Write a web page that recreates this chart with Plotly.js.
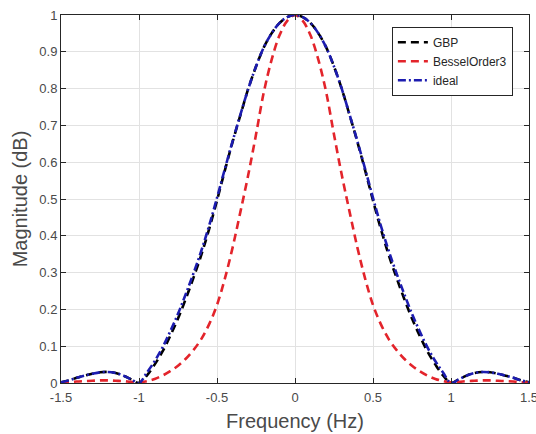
<!DOCTYPE html>
<html>
<head>
<meta charset="utf-8">
<script src="https://cdn.plot.ly/plotly-3.0.1.min.js"></script>
<style>html,body{margin:0;padding:0;background:#fff;}#chart{width:536px;height:434px;}</style>
</head>
<body>
<div id="chart"></div>
<script>
// Frequency grid (Hz)
const freq = [-1.5,-1.45,-1.4,-1.35,-1.3,-1.25,-1.2,-1.15,-1.1,-1.05,-1.0,-0.95,-0.9,-0.85,-0.8,-0.75,-0.7,-0.65,-0.6,-0.55,-0.5,-0.45,-0.4,-0.35,-0.3,-0.25,-0.2,-0.15,-0.1,-0.05,0,0.05,0.1,0.15,0.2,0.25,0.3,0.35,0.4,0.45,0.5,0.55,0.6,0.65,0.7,0.75,0.8,0.85,0.9,0.95,1.0,1.05,1.1,1.15,1.2,1.25,1.3,1.35,1.4,1.45,1.5];

const ideal = [0.002,0.007,0.014,0.020,0.025,0.029,0.030,0.027,0.020,0.010,0.000,0.028,0.059,0.096,0.140,0.188,0.242,0.299,0.360,0.428,0.503,0.581,0.657,0.729,0.799,0.860,0.912,0.950,0.978,0.994,1.000,0.994,0.978,0.950,0.912,0.860,0.799,0.729,0.657,0.581,0.503,0.428,0.360,0.299,0.242,0.188,0.140,0.096,0.059,0.028,0.000,0.010,0.020,0.027,0.030,0.029,0.025,0.020,0.014,0.007,0.002];

const gbp = [0.002,0.007,0.014,0.020,0.025,0.029,0.030,0.027,0.020,0.010,0.000,0.020,0.050,0.085,0.128,0.175,0.229,0.287,0.349,0.419,0.496,0.577,0.655,0.728,0.799,0.860,0.912,0.950,0.978,0.994,1.000,0.994,0.978,0.950,0.912,0.860,0.799,0.728,0.655,0.577,0.496,0.419,0.349,0.287,0.229,0.175,0.128,0.085,0.050,0.020,0.000,0.010,0.020,0.027,0.030,0.029,0.025,0.020,0.014,0.007,0.002];

const bessel3 = [0.001,0.002,0.004,0.005,0.006,0.007,0.007,0.006,0.005,0.003,0.002,0.005,0.011,0.020,0.032,0.047,0.066,0.090,0.120,0.160,0.212,0.283,0.368,0.465,0.565,0.675,0.790,0.878,0.944,0.984,1.000,0.984,0.944,0.878,0.790,0.675,0.565,0.465,0.368,0.283,0.212,0.160,0.120,0.090,0.066,0.047,0.032,0.020,0.011,0.005,0.002,0.003,0.005,0.006,0.007,0.007,0.006,0.005,0.004,0.002,0.001];

const xTicks = [-1.5,-1,-0.5,0,0.5,1,1.5];
const xTickLabels = ['-1.5','-1','-0.5','0','0.5','1','1.5'];
const yTicks = [0,0.1,0.2,0.3,0.4,0.5,0.6,0.7,0.8,0.9,1];
const yTickLabels = ['0','0.1','0.2','0.3','0.4','0.5','0.6','0.7','0.8','0.9','1'];

const FONT = 'Liberation Sans, Arial, sans-serif';

const traces = [
  {x: freq, y: gbp, name: 'GBP', mode: 'lines', line: {color: '#000000', width: 2.6, dash: '8px,5px', shape: 'spline'}},
  {x: freq, y: bessel3, name: 'BesselOrder3', mode: 'lines', line: {color: '#e3242b', width: 2.6, dash: '8px,5px', shape: 'spline'}},
  {x: freq, y: ideal, name: 'ideal', mode: 'lines', line: {color: '#1c1cb0', width: 2.6, dash: '8px,3px,2px,3px', shape: 'spline'}}
];

const axisCommon = {
  showline: true, linecolor: '#262626', linewidth: 1, mirror: 'ticks',
  ticks: 'inside', ticklen: 5, tickcolor: '#262626', tickwidth: 1,
  showgrid: true, gridcolor: '#e2e2e2', gridwidth: 1, zeroline: false,
  ticklabeloverflow: 'allow',
  tickfont: {family: FONT, size: 13, color: '#4a4a4a'}
};

const layout = {
  width: 536, height: 434,
  margin: {l: 61, r: 7, t: 15, b: 51},
  paper_bgcolor: '#ffffff', plot_bgcolor: '#ffffff',
  showlegend: true,
  legend: {x: 0.707, y: 0.968, xanchor: 'left', yanchor: 'top', bgcolor: '#ffffff',
           bordercolor: '#262626', borderwidth: 1,
           font: {family: FONT, size: 12, color: '#262626'},
           tracegroupgap: 0},
  xaxis: Object.assign({}, axisCommon, {
    range: [-1.5, 1.5], tickmode: 'array', tickvals: xTicks, ticktext: xTickLabels,
    ticklabelstandoff: 2,
    title: {text: 'Frequency (Hz)', standoff: 10, font: {family: FONT, size: 20, color: '#4a4a4a'}}
  }),
  yaxis: Object.assign({}, axisCommon, {
    range: [0, 1], tickmode: 'array', tickvals: yTicks, ticktext: yTickLabels,
    title: {text: 'Magnitude (dB)', standoff: 6, font: {family: FONT, size: 20, color: '#4a4a4a'}}
  })
};

Plotly.newPlot('chart', traces, layout, {displayModeBar: false, staticPlot: true});
</script>
</body>
</html>
